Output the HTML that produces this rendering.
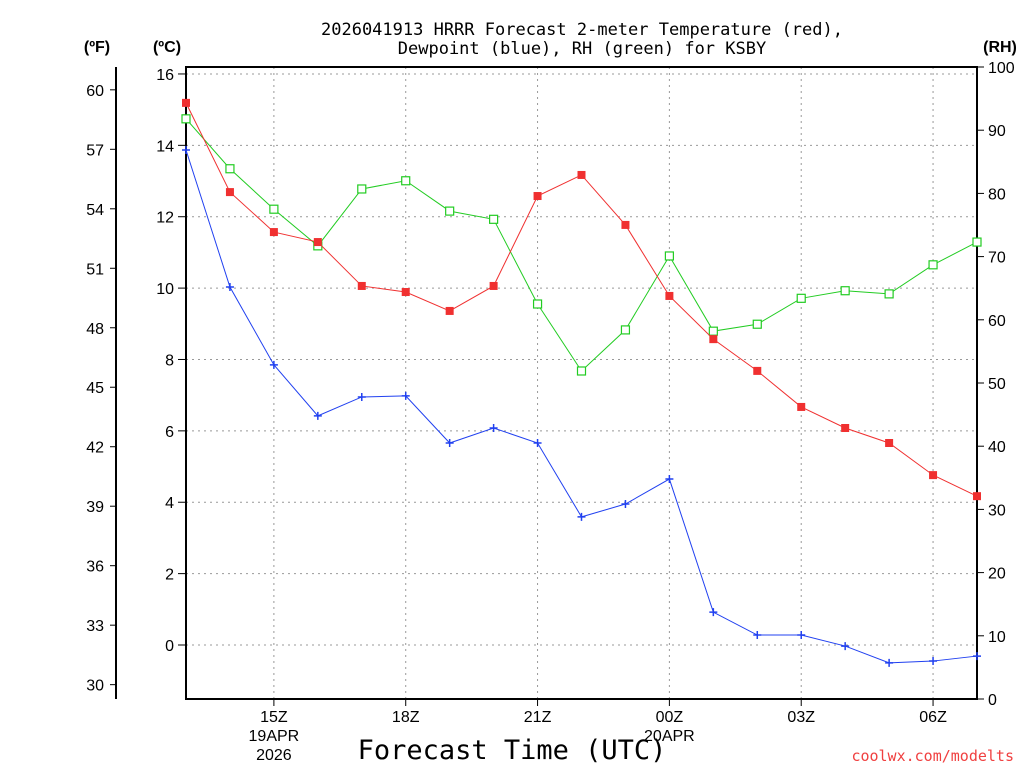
<!DOCTYPE html>
<html><head><meta charset="utf-8"><style>
body{margin:0;background:#fff;}
svg text{font-family:"Liberation Sans","DejaVu Sans",sans-serif;}
svg text.mono{font-family:"DejaVu Sans Mono","Liberation Mono",monospace;}
</style></head><body>
<svg id="chart" width="1024" height="768" xmlns="http://www.w3.org/2000/svg">
<text class="mono" x="582" y="35" text-anchor="middle" font-size="17">2026041913 HRRR Forecast 2-meter Temperature (red),</text>
<text class="mono" x="582" y="54" text-anchor="middle" font-size="17">Dewpoint (blue), RH (green) for KSBY</text>
<text x="97" y="52" text-anchor="middle" font-size="16" font-weight="bold">(ºF)</text>
<text x="167" y="52" text-anchor="middle" font-size="16" font-weight="bold">(ºC)</text>
<text x="1000" y="52" text-anchor="middle" font-size="16" font-weight="bold">(RH)</text>
<text class="mono" x="512" y="759" text-anchor="middle" font-size="27">Forecast Time (UTC)</text>
<text class="mono" x="1014" y="761" text-anchor="end" font-size="15" fill="#f04040">coolwx.com/modelts</text>
<g id="grid"></g><g id="axes"></g><g id="series"></g>
</svg>
<script>
const hours=[13,14,15,16,17,18,19,20,21,22,23,24,25,26,27,28,29,30,31];
const tempC=[15.19,12.69,11.57,11.29,10.06,9.89,9.36,10.06,12.58,13.17,11.77,9.78,8.57,7.68,6.67,6.08,5.66,4.76,4.17];
const dewC=[13.87,10.03,7.85,6.42,6.95,6.98,5.66,6.08,5.66,3.59,3.95,4.65,0.92,0.28,0.28,-0.03,-0.5,-0.45,-0.31];
const rh=[91.8,83.9,77.5,71.7,80.7,82.0,77.2,75.9,62.5,51.9,58.4,70.1,58.2,59.3,63.4,64.6,64.1,68.7,72.3];
const cTicks=[0,2,4,6,8,10,12,14,16];
const fTicks=[30,33,36,39,42,45,48,51,54,57,60];
const rhTicks=[0,10,20,30,40,50,60,70,80,90,100];
const xTicks=[15,18,21,24,27,30];
const xLabels=["15Z","18Z","21Z","00Z","03Z","06Z"];
const NS="http://www.w3.org/2000/svg";
const X0=186,X1=977,Y0=67,Y1=699;
const x=h=>X0+(h-13)*(X1-X0)/18;
const yC=c=>645-c*35.69;
const yF=f=>yC((f-32)*5/9);
const yR=r=>Y1-r*(Y1-Y0)/100;
function el(tag,at,parent,txt){const e=document.createElementNS(NS,tag);for(const k in at)e.setAttribute(k,at[k]);if(txt!==undefined)e.textContent=txt;document.getElementById(parent).appendChild(e);return e;}
cTicks.forEach(c=>{const l=el('line',{x1:X0,x2:X1,y1:yC(c),y2:yC(c),stroke:'#999','stroke-dasharray':'2,4'},'grid');


el('line',{x1:178,x2:186,y1:yC(c),y2:yC(c),stroke:'#000'},'axes');
const t=el('text',{x:174,y:yC(c)+6,'text-anchor':'end','font-size':16},'axes',c);

});
xTicks.forEach((h,i)=>{const l=el('line',{x1:x(h),x2:x(h),y1:Y0,y2:Y1,stroke:'#999','stroke-dasharray':'2,4'},'grid');


el('line',{x1:x(h),x2:x(h),y1:Y1,y2:Y1+7,stroke:'#000'},'axes');
const t=el('text',{x:x(h),y:722,'text-anchor':'middle','font-size':16},'axes',xLabels[i]);

});
el('text',{x:x(15),y:741,'text-anchor':'middle','font-size':16},'axes','19APR');
el('text',{x:x(15),y:760,'text-anchor':'middle','font-size':16},'axes','2026');
el('text',{x:x(24),y:741,'text-anchor':'middle','font-size':16},'axes','20APR');
el('line',{x1:116,x2:116,y1:Y0,y2:Y1,stroke:'#000','stroke-width':2},'axes');
fTicks.forEach(f=>{el('line',{x1:116,x2:110,y1:yF(f),y2:yF(f),stroke:'#000'},'axes');
const t=el('text',{x:104,y:yF(f)+6,'text-anchor':'end','font-size':16},'axes',f);

});
rhTicks.forEach(r=>{el('line',{x1:X1,x2:X1+7,y1:yR(r),y2:yR(r),stroke:'#000'},'axes');
const t=el('text',{x:988,y:yR(r)+6,'font-size':16},'axes',r);

});
el('rect',{x:X0,y:Y0,width:X1-X0,height:Y1-Y0,fill:'none',stroke:'#000','stroke-width':2},'axes');
function series(vals,yf,color,marker,name){
const p=el('polyline',{points:vals.map((v,i)=>x(hours[i])+','+yf(v)).join(' '),fill:'none',stroke:color,'stroke-width':1},'series');


vals.forEach((v,i)=>{const cx=x(hours[i]),cy=yf(v);let m;
if(marker==='fill')m=el('rect',{x:cx-4,y:cy-4,width:8,height:8,fill:color},'series');
else if(marker==='open')m=el('rect',{x:cx-4,y:cy-4,width:8,height:8,fill:'#fff',stroke:color,'stroke-width':1.2},'series');
else m=el('path',{d:`M${cx-4},${cy}H${cx+4}M${cx},${cy-4}V${cy+4}`,stroke:color,'stroke-width':1.5},'series');

});}
series(rh,yR,'#22cc22','open','rh');
series(tempC,yC,'#f03030','fill','temperature');
series(dewC,yC,'#2040f0','plus','dewpoint');
</script>
</body></html>
